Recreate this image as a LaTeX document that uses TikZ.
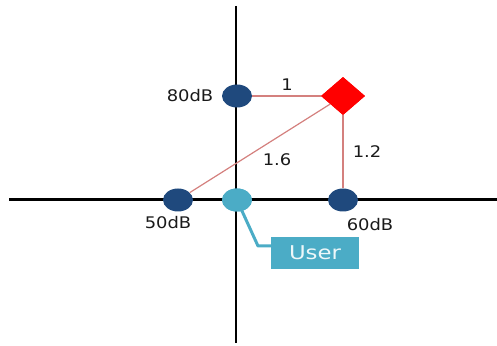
\documentclass[tikz,border=0pt]{standalone}
\usepackage{fontspec}
\setmainfont{DejaVu Sans}
\usetikzlibrary{shapes.geometric}
\definecolor{dblue}{HTML}{1F497D}
\definecolor{lblue}{HTML}{4BACC6}
\definecolor{pinkline}{HTML}{D4807E}
\definecolor{txt}{HTML}{1A1A1A}
\tikzset{
  axis/.style={line width=2.2pt, black},
  dot/.style={ellipse, draw=none, fill=dblue, minimum width=30pt, minimum height=23pt, inner sep=0pt},
  udot/.style={dot, fill=lblue},
  tgt/.style={diamond, fill=red, draw=none, minimum width=44pt, minimum height=38pt, inner sep=0pt},
  lbl/.style={text=txt, font=\fontsize{16}{18}\selectfont, inner sep=0pt},
  link/.style={pinkline, line width=1.2pt},
  ubox/.style={fill=lblue, minimum width=88pt, minimum height=32pt, inner sep=0pt, text=white!90!lblue, font=\fontsize{19}{21}\selectfont},
  call/.style={lblue, line width=3pt}
}
\begin{document}
\begin{tikzpicture}[x=1pt,y=1pt]
\useasboundingbox (0,0) rectangle (497,345);
\coordinate (vt) at (236,339);
\coordinate (vb) at (236,2);
\coordinate (hl) at (9,145.5);
\coordinate (hr) at (497,145.5);
\draw[axis] (vt) -- (vb);
\draw[axis] (hl) -- (hr);
\node[dot] (n80) at (237,249) {};
\node[dot] (n50) at (178,145) {};
\node[dot] (n60) at (343,145) {};
\node[tgt] (t) at (343,249) {};
\draw[link] (n80.east) -- (t.west);
\draw[link] (t.south) -- (n60.north);
\draw[link] (t) -- (n50);
\node[tgt] at (343,249) {};
\node[udot] (u) at (237,145) {};
\node[ubox] (ub) at (315,92) {\scalebox{1.2}[1]{User}};
\coordinate (bend) at (258,99);
\draw[call, line join=round] (u.center) -- (bend) -- (ub.west |- bend);
\node[udot] at (237,145) {};
\node[lbl] (l80) at (190,249) {\scalebox{1.12}[1]{80dB}};
\node[lbl] (l50) at (168,122) {\scalebox{1.12}[1]{50dB}};
\node[lbl] (l60) at (370,120) {\scalebox{1.12}[1]{60dB}};
\node[lbl] (l1) at (287,260) {\scalebox{1.12}[1]{1}};
\node[lbl] (l16) at (277,185) {\scalebox{1.12}[1]{1.6}};
\node[lbl] (l12) at (367,193) {\scalebox{1.12}[1]{1.2}};
\end{tikzpicture}
\end{document}
